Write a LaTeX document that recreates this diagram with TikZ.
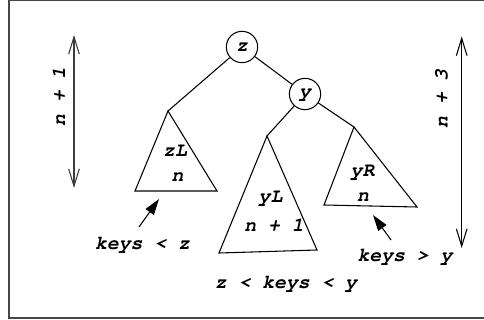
\documentclass[tikz,border=0pt]{standalone}
\usepackage[T1,TU]{fontenc}
\usetikzlibrary{arrows.meta}
\newcommand{\treefont}{\fontencoding{T1}\fontfamily{pcr}\fontseries{b}\fontshape{sl}\selectfont}

\tikzset{
  tlabel/.style={inner sep=0.75pt, font=\treefont\fontsize{14.8}{16}\selectfont},
  keynode/.style={draw, circle, line width=0.8pt, minimum size=23.5pt, inner sep=0pt, tlabel},
  edge/.style={line width=0.8pt},
  heightarrow/.style={line width=0.8pt, {Straight Barb[length=13pt,width=8pt]}-{Straight Barb[length=13pt,width=8pt]}},
  pointer/.style={line width=0.8pt, -{Triangle[length=12pt,width=7.5pt]}},
}

\begin{document}
\begin{tikzpicture}[x=0.75pt,y=0.75pt,yscale=-1,xscale=1]
		\useasboundingbox (0,0) rectangle (484,320);
		
		%Frame
		\draw [line width=1.5pt, color={rgb, 255:red, 70; green, 70; blue, 70}] (495,0.5) -- (8.5,0.5) -- (8.5,318) -- (495,318) ;
		
		%Nodes of the tree
		\node [keynode] (z) at (242,47) {z};
		\node [keynode] (y) at (305,94) {y};
		%Apexes of the subtrees
		\coordinate (zLtop) at (168,111);
		\coordinate (yLtop) at (267,136);
		\coordinate (yRtop) at (354,127);
		
		%Straight Lines
		\draw [edge] (z) -- (zLtop) ;
		\draw [edge] (z) -- (y) ;
		\draw [edge] (y) -- (yLtop) ;
		\draw [edge] (y) -- (yRtop) ;
		
		%Shape: Triangles
		\draw [edge] (zLtop) -- (135,191) -- (217,191) -- cycle ;
		\draw [edge] (yLtop) -- (219,253) -- (317,250) -- cycle ;
		\draw [edge] (yRtop) -- (324,205) -- (417,207) -- cycle ;
		
		% Text Node
		\node [tlabel] (zLname) at (175,151) {zL};
		\node [tlabel] (zLheight) at (177.5,177) {n};
		\node [tlabel] (yLname) at (270.5,198) {yL};
		\node [tlabel] (yLheight) at (274,225) {n + 1};
		\node [tlabel] (yRname) at (362.5,172) {yR};
		\node [tlabel] (yRheight) at (363,197) {n};
		
		% Key ranges
		\node [tlabel] (zLkeys) at (142.5,245) {keys < z};
		\node [tlabel] (yRkeys) at (405,257) {keys > y};
		\node [tlabel] (yLkeys) at (286,284) {z < keys < y};
		\coordinate (zLtip) at (159,199);
		\coordinate (zLtail) at (139,227);
		\coordinate (yRtip) at (373,215);
		\coordinate (yRtail) at (391,240);
		\draw [pointer] (zLtail) -- (zLtip) ;
		\draw [pointer] (yRtail) -- (yRtip) ;
		
		% Heights
		\coordinate (lefttop) at (74,35);
		\coordinate (leftbottom) at (74,188);
		\coordinate (righttop) at (461.7,36.5);
		\coordinate (rightbottom) at (461.7,248);
		\draw [heightarrow, color={rgb, 255:red, 60; green, 60; blue, 60}] (lefttop) -- (leftbottom) ;
		\draw [heightarrow] (righttop) -- (rightbottom) ;
		\node [tlabel, rotate=90] (leftheight) at (59,97) {n + 1};
		\node [tlabel, rotate=90] (rightheight) at (441.5,99) {n + 3};
		
\end{tikzpicture}
\end{document}
